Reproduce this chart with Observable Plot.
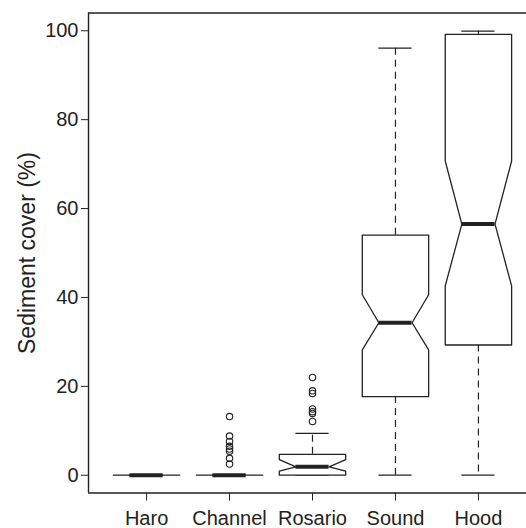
<!DOCTYPE html>
<html>
<head>
<meta charset="utf-8">
<script src="https://cdn.jsdelivr.net/npm/d3@7"></script>
<script src="https://cdn.jsdelivr.net/npm/@observablehq/plot@0.6"></script>
<style>
  html, body { margin: 0; padding: 0; background: #fff; }
  #chart svg { display: block; }
</style>
</head>
<body>
<div id="chart"></div>
<script>
const sites = ["Haro", "Channel", "Rosario", "Sound", "Hood"];
const whiskerLow  = [0, 0, 0,    0,    0];
const q1          = [0, 0, 0,    17.7, 29.3];
const notchLow    = [0, 0, 0.9,  28.2, 42.6];
const median      = [0, 0, 1.9,  34.3, 56.5];
const notchHigh   = [0, 0, 3.5,  40.6, 70.7];
const q3          = [0, 0, 4.7,  54.0, 99.2];
const whiskerHigh = [0, 0, 9.4,  96.1, 99.9];
const outliersChannel = [13.2, 8.8, 7.6, 6.5, 5.9, 5.4, 3.8, 2.5];
const outliersRosario = [22.0, 19.0, 18.4, 14.9, 14.3, 13.9, 12.1];
const yTicks = [0, 20, 40, 60, 80, 100];

const halfW = 0.4;
const stats = sites.map((s, i) => ({
  site: s, x: i + 1,
  lo: whiskerLow[i], q1: q1[i], nlo: notchLow[i], med: median[i],
  nhi: notchHigh[i], q3: q3[i], hi: whiskerHigh[i]
}));

const outline = [];
for (const d of stats) {
  const L = d.x - halfW, R = d.x + halfW, h = halfW / 2;
  const pts = [
    [L, d.q1], [L, d.nlo], [d.x - h, d.med], [L, d.nhi], [L, d.q3],
    [R, d.q3], [R, d.nhi], [d.x + h, d.med], [R, d.nlo], [R, d.q1], [L, d.q1]
  ];
  for (const [x, y] of pts) outline.push({site: d.site, x, y});
}

const outliers = [
  ...outliersChannel.map(v => ({x: 2, y: v})),
  ...outliersRosario.map(v => ({x: 3, y: v}))
];

const font = "Helvetica, Arial, 'Liberation Sans', sans-serif";
const ink = "#222";

const chart = Plot.plot({
  width: 526,
  height: 528,
  marginLeft: 88,
  marginRight: 0,
  marginTop: 12.5,
  marginBottom: 35.5,
  style: {fontFamily: font, fontSize: "20px", color: ink, background: "#fff"},
  x: {domain: [0.3, 5.7], range: [88, 536]},
  y: {domain: [-4, 104], range: [492.5, 12.5]},
  marks: [
    // frame
    Plot.ruleY([-4, 104], {stroke: ink, strokeWidth: 1.4}),
    Plot.ruleX([0.3], {stroke: ink, strokeWidth: 1.4}),
    // whiskers
    Plot.ruleX(stats, {x: "x", y1: "q3", y2: "hi", stroke: ink, strokeWidth: 1.2, strokeDasharray: "7,5"}),
    Plot.ruleX(stats, {x: "x", y1: "q1", y2: "lo", stroke: ink, strokeWidth: 1.2, strokeDasharray: "7,5"}),
    Plot.ruleY(stats, {y: "hi", x1: d => d.x - halfW / 2, x2: d => d.x + halfW / 2, stroke: ink, strokeWidth: 1.3}),
    Plot.ruleY(stats, {y: "lo", x1: d => d.x - halfW / 2, x2: d => d.x + halfW / 2, stroke: ink, strokeWidth: 1.3}),
    // notched boxes
    Plot.line(outline, {x: "x", y: "y", z: "site", stroke: ink, strokeWidth: 1.3, fill: "white", curve: "linear"}),
    // medians
    Plot.ruleY(stats, {y: "med", x1: d => d.x - halfW / 2, x2: d => d.x + halfW / 2, stroke: ink, strokeWidth: 4}),
    // outliers
    Plot.dot(outliers, {x: "x", y: "y", r: 3.2, stroke: ink, strokeWidth: 1.1, fill: "none"}),
    // axes
    Plot.axisY({ticks: yTicks, tickSize: 7, tickPadding: 3, label: null, fontSize: 20, stroke: ink}),
    Plot.axisX({ticks: [1, 2, 3, 4, 5], tickFormat: i => sites[i - 1], tickSize: 8, tickPadding: 10, label: null, fontSize: 20, stroke: ink}),
    Plot.text(["Sediment cover (%)"], {frameAnchor: "left", textAnchor: "middle", dx: -61, rotate: -90, fontSize: 23, fill: ink})
  ]
});
document.getElementById("chart").appendChild(chart);
</script>
</body>
</html>
